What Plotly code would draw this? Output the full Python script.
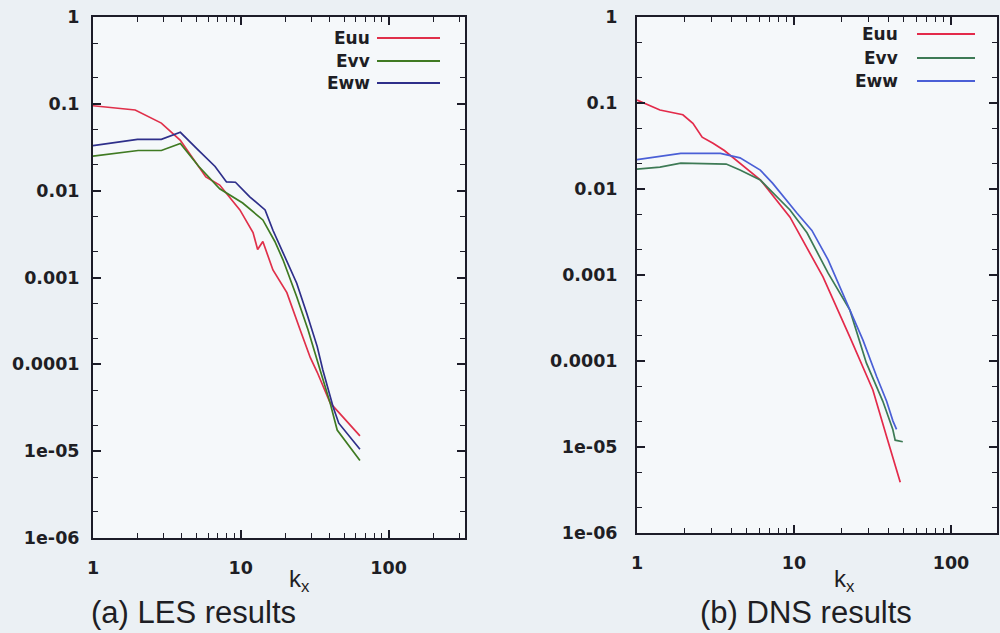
import plotly.graph_objects as go

# ---------------- data ----------------
les_k_uu = [1, 1.93, 2.9, 3.9, 5.8, 7.2, 9.86, 12.1, 13.0, 14.1, 16.5, 20.5, 25.2, 29.5, 32.9, 40.2, 46, 64]
les_uu = [0.095, 0.085, 0.06, 0.038, 0.0144, 0.0116, 0.006, 0.0033, 0.0021, 0.0026, 0.00122, 6.7e-4, 2.5e-4, 1.2e-4, 8.1e-5, 3.6e-5, 2.8e-5, 1.5e-5]

les_k_vv = [1, 2.02, 2.9, 3.9, 5.2, 7.2, 10.3, 14.1, 17, 19.3, 23.9, 28.5, 34.4, 40.2, 44.9, 64]
les_vv = [0.025, 0.029, 0.029, 0.035, 0.019, 0.0105, 0.0072, 0.0046, 0.0026, 0.0016, 6.0e-4, 2.5e-4, 8.6e-5, 3.6e-5, 1.75e-5, 7.8e-6]

les_k_ww = [1, 2, 2.9, 3.9, 5.2, 6.7, 8.0, 9.2, 11.5, 14.6, 16.5, 17.8, 23.9, 27.9, 32.9, 35.9, 42.2, 46, 64]
les_ww = [0.033, 0.039, 0.039, 0.047, 0.029, 0.019, 0.0126, 0.0125, 0.0085, 0.006, 0.0035, 0.0026, 8.6e-4, 3.9e-4, 1.6e-4, 8.6e-5, 3.2e-5, 2.1e-5, 1.05e-5]

dns_k_uu = [1, 1.4, 1.96, 2.27, 2.6, 3.05, 3.6, 4.53, 6.1, 9.43, 15.3, 22.7, 31.8, 39, 47.5]
dns_uu = [0.108, 0.083, 0.073, 0.058, 0.04, 0.034, 0.028, 0.020, 0.0128, 0.0047, 9.5e-4, 1.9e-4, 4.6e-5, 1.3e-5, 3.9e-6]

dns_k_vv = [1, 1.4, 1.9, 3.7, 4.53, 6.1, 9.43, 12.1, 16.5, 22.7, 28.9, 36.8, 42.6, 44.1, 49.3]
dns_vv = [0.017, 0.018, 0.020, 0.0195, 0.0166, 0.0127, 0.0057, 0.0031, 0.00105, 3.9e-4, 9.5e-5, 3.4e-5, 1.6e-5, 1.2e-5, 1.15e-5]

dns_k_ww = [1, 1.9, 3.4, 4.53, 6.1, 7.3, 10.4, 13.0, 16.5, 20.5, 27.5, 33.6, 38.9, 42.7, 45]
dns_ww = [0.022, 0.026, 0.026, 0.023, 0.0166, 0.0117, 0.0053, 0.0033, 0.0015, 6.1e-4, 1.75e-4, 6.6e-5, 3.4e-5, 2.0e-5, 1.6e-5]

series_names = ["Euu", "Evv", "Eww"]
x_tick_vals = [1, 10, 100]
x_tick_text = ["1", "10", "100"]
y_tick_vals = [1, 0.1, 0.01, 0.001, 0.0001, 1e-05, 1e-06]
y_tick_text = ["1", "0.1", "0.01", "0.001", "0.0001", "1e-05", "1e-06"]
captions = ["(a) LES results", "(b) DNS results"]

les_colors = ["#e0304a", "#3f7a22", "#2e2f8a"]
dns_colors = ["#e32a4a", "#3d7a55", "#4a5fd6"]

# ---------------- figure ----------------
W, H = 1000, 633
fig = go.Figure()

def add(xs, ys, color, xa, ya, name):
    fig.add_trace(go.Scatter(x=xs, y=ys, mode="lines", name=name,
                             line=dict(color=color, width=1.7),
                             xaxis=xa, yaxis=ya, showlegend=False))

add(les_k_uu, les_uu, les_colors[0], "x", "y", "Euu")
add(les_k_vv, les_vv, les_colors[1], "x", "y", "Evv")
add(les_k_ww, les_ww, les_colors[2], "x", "y", "Eww")
add(dns_k_uu, dns_uu, dns_colors[0], "x2", "y2", "Euu")
add(dns_k_vv, dns_vv, dns_colors[1], "x2", "y2", "Evv")
add(dns_k_ww, dns_ww, dns_colors[2], "x2", "y2", "Eww")

tickfont = dict(family="DejaVu Sans", size=17.5, color="#1e1e24", weight="bold")
axcol = "#1c1c28"

def xax(domain, rng, anchor):
    return dict(type="log", domain=domain, range=rng, anchor=anchor, automargin=False,
                tickvals=x_tick_vals, ticktext=x_tick_text, ticks="inside",
                ticklen=8, tickwidth=1.5, tickcolor=axcol, showline=True,
                linecolor=axcol, linewidth=2, mirror="ticks", showgrid=False,
                zeroline=False, tickfont=tickfont, ticklabelstandoff=13,
                minor=dict(ticks="inside", ticklen=5, tickwidth=1.3, tickcolor=axcol,
                           tickvals=[2, 3, 4, 5, 6, 7, 8, 9, 20, 30, 40, 50, 60, 70, 80, 90, 200, 300],
                           showgrid=False))

def yax(domain, anchor, standoff):
    return dict(type="log", domain=domain, range=[-6, 0], anchor=anchor, automargin=False,
                tickvals=y_tick_vals, ticktext=y_tick_text, ticks="inside",
                ticklen=8, tickwidth=1.5, tickcolor=axcol, showline=True,
                linecolor=axcol, linewidth=2, mirror="ticks", showgrid=False,
                zeroline=False, tickfont=tickfont, ticklabelstandoff=standoff,
                minor=dict(ticks="inside", ticklen=5, tickwidth=1.3, tickcolor=axcol,
                           tickvals=[0.5, 0.2, 0.05, 0.02, 0.005, 0.002, 5e-4, 2e-4,
                                     5e-5, 2e-5, 5e-6, 2e-6],
                           showgrid=False))

lx = [93 / W, 465 / W]
rx = [637 / W, 997 / W]
ly = [1 - 538 / H, 1 - 17 / H]
ry = [1 - 533 / H, 1 - 17 / H]

fig.update_layout(
    width=W, height=H, autosize=False, margin=dict(l=0, r=0, t=0, b=0, pad=0),
    paper_bgcolor="#ebf0f4", plot_bgcolor="#f5f8fa",
    xaxis=xax(lx, [0, 2.517], "y"), yaxis=yax(ly, "x", 8),
    xaxis2=xax(rx, [0, 2.293], "y2"), yaxis2=yax(ry, "x2", 14),
    showlegend=False,
)

ann = []
shapes = []
# manual legends (right-aligned text followed by a line sample)
leg = [
    dict(text_x=372, line_x0=377, line_x1=440, ys=[38, 61, 83], colors=les_colors),
    dict(text_x=900, line_x0=917, line_x1=975, ys=[34, 58, 81], colors=dns_colors),
]
legfont = dict(family="DejaVu Sans", size=17, color="#1e1e24", weight="bold")
for L in leg:
    for nm, yy, c in zip(series_names, L["ys"], L["colors"]):
        ann.append(dict(x=L["text_x"] / W, y=1 - yy / H, xref="paper", yref="paper",
                        text=nm, showarrow=False, xanchor="right", yanchor="middle",
                        font=legfont))
        shapes.append(dict(type="line", xref="paper", yref="paper",
                           x0=L["line_x0"] / W, x1=L["line_x1"] / W,
                           y0=1 - yy / H, y1=1 - yy / H,
                           line=dict(color=c, width=1.8)))

# axis titles
for xx, yy in [(299, 580), (844, 580)]:
    ann.append(dict(x=xx / W, y=1 - yy / H, xref="paper", yref="paper",
                    text="k<sub>x</sub>", showarrow=False, xanchor="center", yanchor="middle",
                    font=dict(family="Liberation Sans", size=24, color="#1e1e24")))

# captions
ann.append(dict(x=89 / W, y=1 - 612 / H, xref="paper", yref="paper", text=captions[0],
                showarrow=False, xanchor="left", yanchor="middle",
                font=dict(family="Liberation Sans", size=31, color="#1e1e24")))
ann.append(dict(x=806 / W, y=1 - 612 / H, xref="paper", yref="paper", text=captions[1],
                showarrow=False, xanchor="center", yanchor="middle",
                font=dict(family="Liberation Sans", size=31, color="#1e1e24")))

fig.update_layout(annotations=ann, shapes=shapes)
fig.write_html(
    "out.html",
    config={"responsive": False, "displayModeBar": False},
    post_script=("document.body.style.margin='0';"
                 "document.body.style.background='#ebf0f4';"),
)
